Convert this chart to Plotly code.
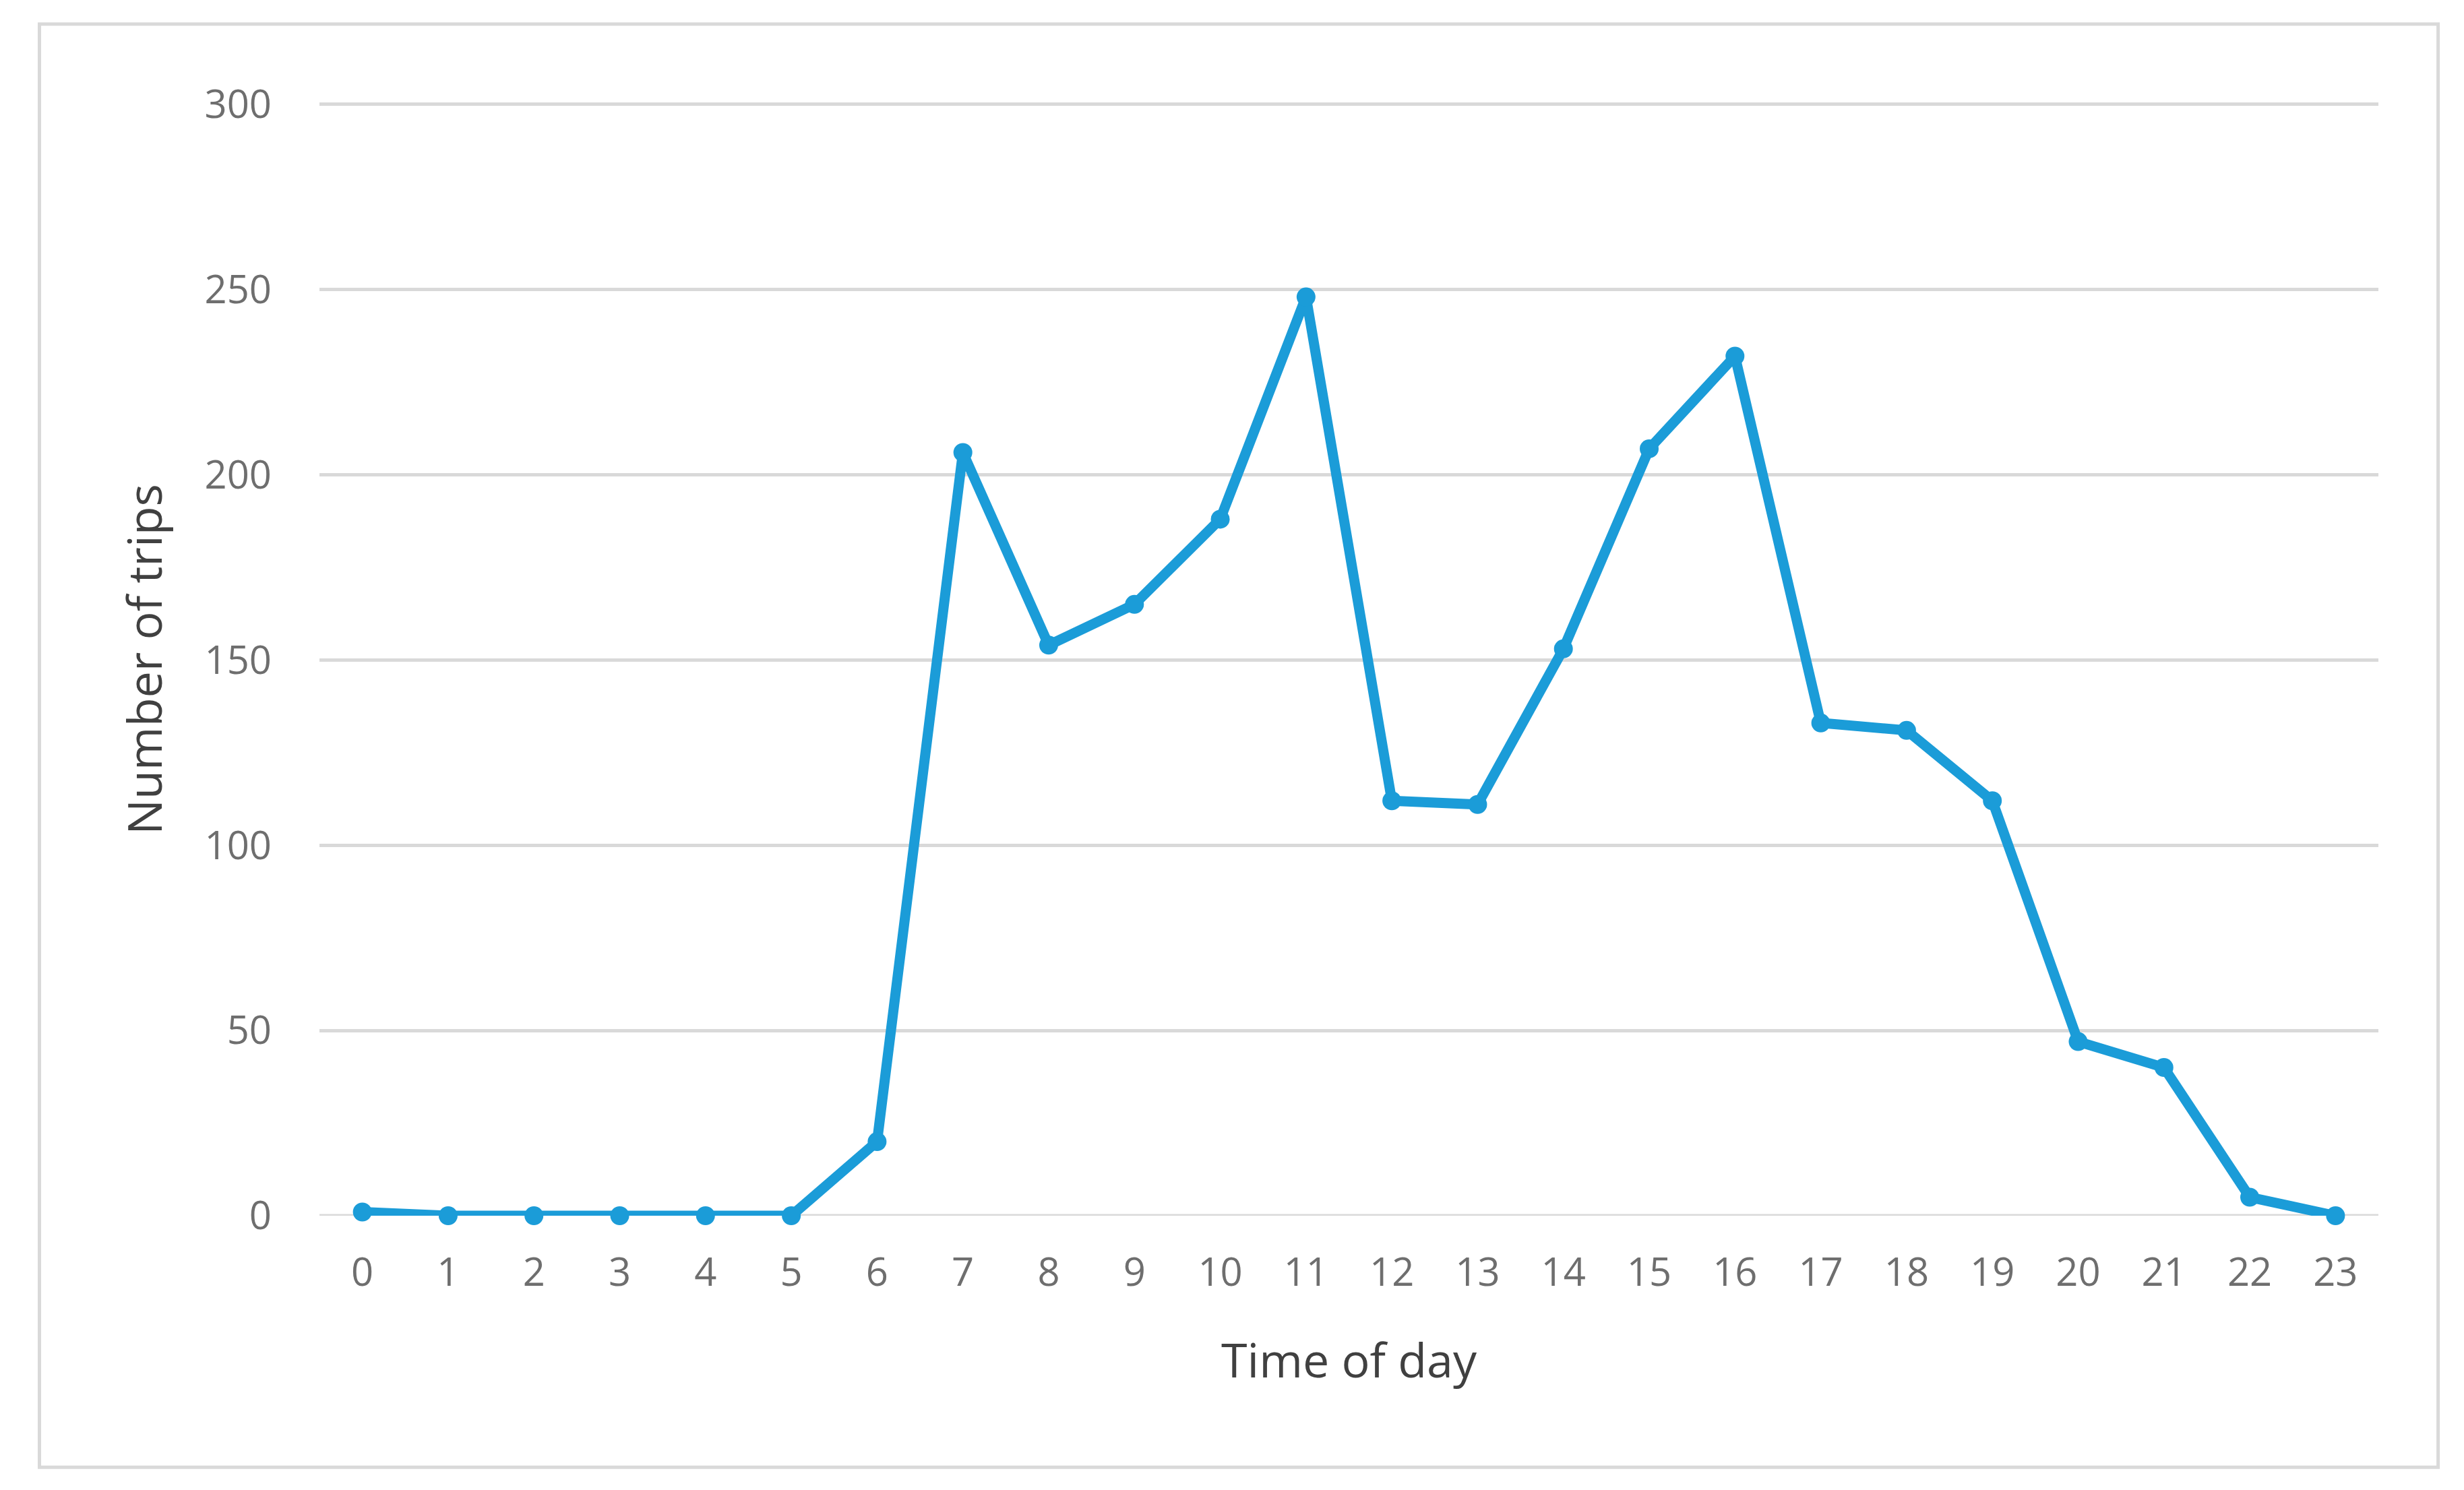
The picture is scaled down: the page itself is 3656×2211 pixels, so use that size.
import plotly.graph_objects as go

hours = list(range(24))
trips = [1, 0, 0, 0, 0, 0, 20, 206, 154, 165, 188, 248, 112, 111, 153, 207, 232, 133, 131, 112, 47, 40, 5, 0]
y_ticks = [0, 50, 100, 150, 200, 250, 300]

W, H = 3656, 2211
fig = go.Figure(go.Scatter(
    x=hours, y=trips, mode="lines+markers",
    line=dict(color="#1b9cd8", width=15),
    marker=dict(color="#1b9cd8", size=28),
    cliponaxis=False,
))
font = "Open Sans, Lato, sans-serif"
fig.update_layout(
    width=W, height=H, paper_bgcolor="white", plot_bgcolor="white",
    margin=dict(l=466, r=135, t=145, b=415),
    showlegend=False,
    font=dict(family=font, color="#6e6e6e", size=58),
    xaxis=dict(range=[-0.5, 23.5], tickmode="array", tickvals=hours,
               ticktext=[str(h) for h in hours], showgrid=False, zeroline=False,
               ticks="", ticklabelstandoff=45,
               title=dict(text="Time of day", font=dict(size=70, color="#404040"), standoff=70)),
    yaxis=dict(range=[0, 300.3], tickmode="array", tickvals=y_ticks,
               showgrid=True, gridcolor="#d9d9d9", gridwidth=5, zeroline=False,
               ticks="", ticklabelstandoff=70,
               title=dict(text="Number of trips", font=dict(size=70, color="#404040"), standoff=40)),
    shapes=[dict(type="rect", xref="paper", yref="paper",
                 x0=-0.136, x1=1.029, y0=-0.226, y1=1.071,
                 line=dict(color="#d9d9d9", width=5)),
            dict(type="line", xref="paper", yref="y", x0=0, x1=1, y0=0, y1=0,
                 line=dict(color="#d9d9d9", width=5), layer="below")],
)
fig.write_html("out.html")
